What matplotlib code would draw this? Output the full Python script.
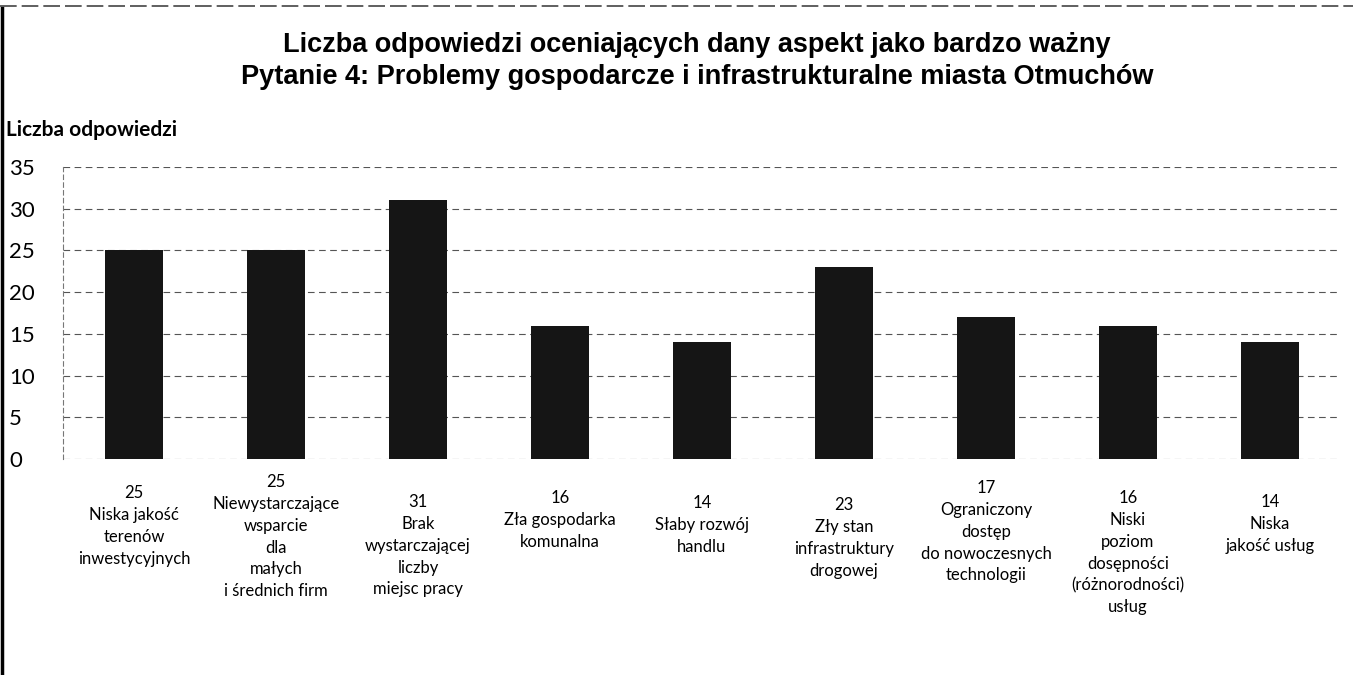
import matplotlib
matplotlib.use("Agg")
import matplotlib.pyplot as plt
from matplotlib.lines import Line2D

categories = [
    "Niska jakość\nterenów\ninwestycyjnych",
    "Niewystarczające\nwsparcie\ndla\nmałych\ni średnich firm",
    "Brak\nwystarczającej\nliczby\nmiejsc pracy",
    "Zła gospodarka\nkomunalna",
    "Słaby rozwój\nhandlu",
    "Zły stan\ninfrastruktury\ndrogowej",
    "Ograniczony\ndostęp\ndo nowoczesnych\ntechnologii",
    "Niski\npoziom\ndosępności\n(różnorodności)\nusług",
    "Niska\njakość usług",
]
values = [25, 25, 31, 16, 14, 23, 17, 16, 14]
yticks = [0, 5, 10, 15, 20, 25, 30, 35]

title = ("Liczba odpowiedzi oceniających dany aspekt jako bardzo ważny\n"
         "Pytanie 4: Problemy gospodarcze i infrastrukturalne miasta Otmuchów")
ylabel = "Liczba odpowiedzi"

# label top offsets below the axis (pixels)
label_offsets = [26, 15, 35, 31, 36, 38, 21, 31, 35]

W, H, DPI = 1353, 675, 100
fig = plt.figure(figsize=(W / DPI, H / DPI), dpi=DPI)
fig.patch.set_facecolor("white")

left, right = 63, 1341
bottom, top = 459, 167
ax = fig.add_axes([left / W, 1 - bottom / H, (right - left) / W, (bottom - top) / H])

x = list(range(len(values)))
ax.bar(x, values, width=0.41, color="#151515", zorder=3)
ax.set_xlim(-0.5, len(values) - 0.5)
ax.set_ylim(0, 35)
ax.set_yticks(yticks)
ax.set_yticklabels([str(t) for t in yticks], fontsize=16, family="Lato", ha="left")
ax.tick_params(axis="y", length=0, pad=(left - 9) * 72 / DPI)
ax.set_xticks([])
for s in ["top", "right", "bottom"]:
    ax.spines[s].set_visible(False)
ax.spines["left"].set_linestyle((0, (4, 3)))
ax.spines["left"].set_color("#777777")
ax.spines["left"].set_linewidth(0.8)
for t in yticks:
    ax.axhline(t, color="#555555", linewidth=0.8, linestyle=(0, (6, 4)), zorder=1)

for i, (v, c, off) in enumerate(zip(values, categories, label_offsets)):
    ax.annotate(f"{v}\n{c}", xy=(i, 0), xycoords=("data", "axes fraction"),
                xytext=(0, -off * 72 / DPI), textcoords="offset points",
                ha="center", va="top", fontsize=12, family="Lato",
                linespacing=1.45, multialignment="center")

fig.text(0.515, 1 - 32 / H, title, ha="center", va="top", fontsize=19.5,
         fontweight="bold", family="Liberation Sans", linespacing=1.3)
fig.text(6 / W, 1 - 130 / H, ylabel, ha="left", va="center", fontsize=15,
         fontweight="bold", family="Lato")

# scanned frame edges
fig.add_artist(Line2D([2 / W, 2 / W], [0, 1 - 8 / H], transform=fig.transFigure,
                      color="black", linewidth=2.5))
fig.add_artist(Line2D([0, 1], [1 - 6 / H, 1 - 6 / H], transform=fig.transFigure,
                      color="#444444", linewidth=1.2, linestyle=(0, (10, 3))))

fig.savefig("out.png", dpi=DPI)
